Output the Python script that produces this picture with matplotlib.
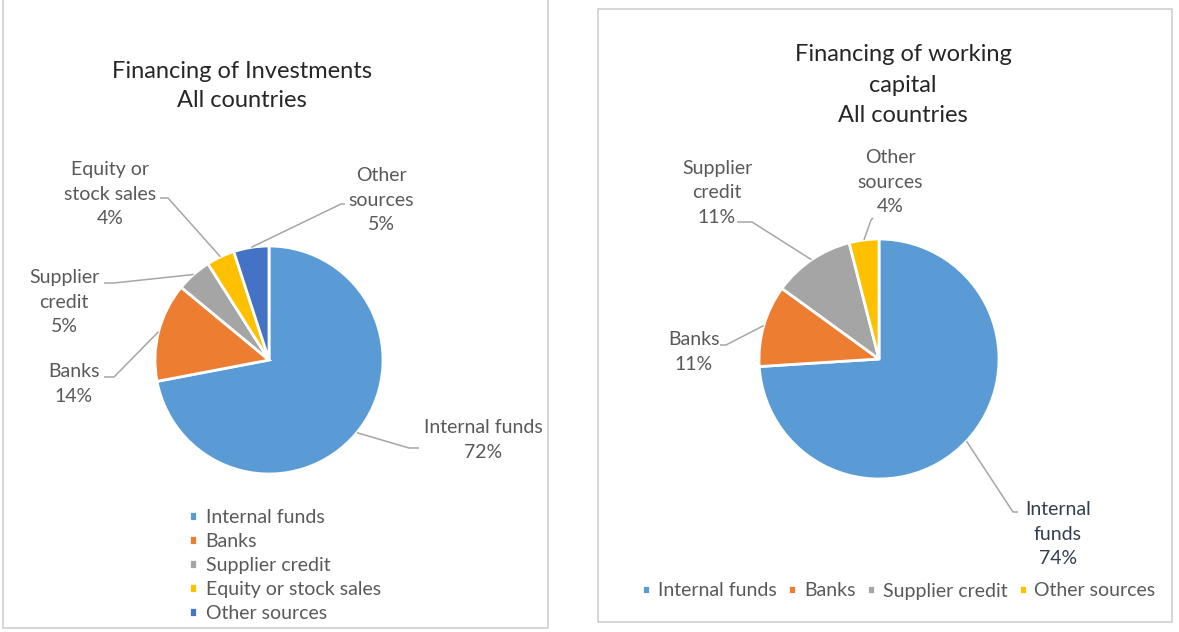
import numpy as np
import matplotlib.pyplot as plt
from matplotlib.patches import Rectangle

plt.rcParams['font.family'] = ['Lato', 'DejaVu Sans']

W, H = 1179, 632

# left chart: financing of investments
inv_labels = ['Internal funds', 'Banks', 'Supplier credit',
              'Equity or stock sales', 'Other sources']
inv_values = [72, 14, 5, 4, 5]
inv_text = ['Internal funds', 'Banks', 'Supplier\ncredit',
            'Equity or\nstock sales', 'Other\nsources']

# right chart: financing of working capital
wc_labels = ['Internal funds', 'Banks', 'Supplier credit', 'Other sources']
wc_values = [74, 11, 11, 4]
wc_text = ['Internal\nfunds', 'Banks', 'Supplier\ncredit', 'Other\nsources']

inv_colors = ['#5B9BD5', '#ED7D31', '#A5A5A5', '#FFC000', '#4472C4']
wc_colors = ['#5B9BD5', '#ED7D31', '#A5A5A5', '#FFC000']

title_col = '#262626'
label_col = '#595959'
line_col = '#A6A6A6'

# label layout in pixels: text centre, stub start (next to text), stub end
inv_layout = [
    ((483, 440), (419, 448), (409, 448)),
    ((74, 384), (104, 377), (114, 377)),
    ((64, 302), (104, 283), (114, 283)),
    ((110, 194), (160, 198), (168, 198)),
    ((381, 200), (345, 204), (341, 204)),
]
wc_layout = [
    ((1058, 534), (1018, 512), (1013, 512)),
    ((694, 352), (720, 345), (726, 345)),
    ((717, 193), (737, 222), (752, 222)),
    ((890, 182), (873, 218), (871, 220)),
]

fig = plt.figure(figsize=(W / 100, H / 100), dpi=100)
ax = fig.add_axes([0, 0, 1, 1])


def draw_pie(values, colors, texts, layout, center, radius, text_colors):
    wedges, _ = ax.pie(values, colors=colors, startangle=-90, counterclock=True,
                       center=center, radius=radius,
                       wedgeprops=dict(edgecolor='white', linewidth=2))
    for w, v, t, (tpos, s0, s1), tc in zip(wedges, values, texts, layout, text_colors):
        mid = np.deg2rad((w.theta1 + w.theta2) / 2)
        px = center[0] + radius * np.cos(mid)
        py = center[1] + radius * np.sin(mid)
        ax.plot([px, s1[0], s0[0]], [py, s1[1], s0[1]], color=line_col,
                lw=1.1, solid_capstyle='butt')
        ax.text(tpos[0], tpos[1], '{}\n{}%'.format(t, v), ha='center', va='center',
                fontsize=14, color=tc, linespacing=1.55)
    return wedges


inv_wedges = draw_pie(inv_values, inv_colors, inv_text, inv_layout,
                      (269, 360), 114, [label_col] * 5)
wc_wedges = draw_pie(wc_values, wc_colors, wc_text, wc_layout,
                     (879, 359), 120, ['#333F50', label_col, label_col, label_col])

ax.set_xlim(0, W)
ax.set_ylim(H, 0)
ax.set_aspect('equal')
ax.axis('off')

# panel frames
ax.add_patch(Rectangle((3, -5), 545, 633, fill=False, edgecolor='#D0D0D0', lw=1.2))
ax.add_patch(Rectangle((598, 9), 574, 613, fill=False, edgecolor='#D0D0D0', lw=1.2))

ax.text(242, 86, 'Financing of Investments\nAll countries', ha='center',
        va='center', fontsize=17, color=title_col, linespacing=1.42)
ax.text(903, 85, 'Financing of working\ncapital\nAll countries', ha='center',
        va='center', fontsize=17, color=title_col, linespacing=1.55)

leg1 = ax.legend(inv_wedges, inv_labels, loc='upper left',
                 bbox_to_anchor=(189, 509), bbox_transform=ax.transData,
                 frameon=False, fontsize=14, labelcolor=label_col,
                 handlelength=0.4, handleheight=0.4, handletextpad=0.45,
                 labelspacing=0.36, borderpad=0, borderaxespad=0)
ax.add_artist(leg1)
ax.legend(wc_wedges, wc_labels, loc='center', ncol=4,
          bbox_to_anchor=(899, 591), bbox_transform=ax.transData,
          frameon=False, fontsize=14, labelcolor=label_col,
          handlelength=0.4, handleheight=0.4, handletextpad=0.4,
          columnspacing=0.6, borderpad=0, borderaxespad=0)

fig.savefig('out.png', dpi=100, facecolor='white')
